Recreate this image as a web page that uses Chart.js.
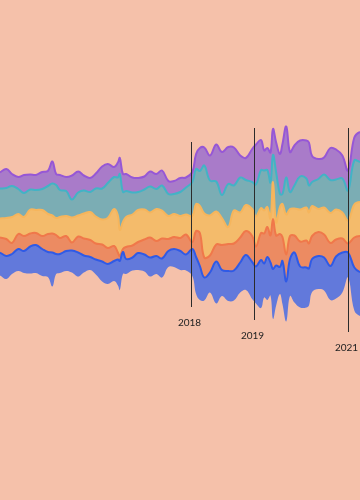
<!DOCTYPE html>
<html>
<head>
<meta charset="utf-8">
<script src="https://cdn.jsdelivr.net/npm/chart.js@4.4.0/dist/chart.umd.min.js"></script>
<style>
  html, body { margin: 0; padding: 0; background: #f5c1aa; overflow: hidden; }
  #wrap { width: 360px; height: 500px; }
</style>
</head>
<body>
<div id="wrap"><canvas id="stream" width="360" height="500"></canvas></div>
<script>
// sample dates (decimal years)
const dates = [2014.97, 2015.07, 2015.16, 2015.26, 2015.35, 2015.45, 2015.54, 2015.64, 2015.73, 2015.80,
  2015.86, 2015.92, 2016.02, 2016.11, 2016.21, 2016.30, 2016.40, 2016.49, 2016.59, 2016.68,
  2016.78, 2016.84, 2016.87, 2016.92, 2016.97, 2017.07, 2017.16, 2017.26, 2017.35, 2017.45,
  2017.54, 2017.64, 2017.73, 2017.83, 2017.92, 2018.02, 2018.08, 2018.14, 2018.21, 2018.30,
  2018.40, 2018.49, 2018.59, 2018.68, 2018.78, 2018.87, 2018.97, 2019.03, 2019.11, 2019.16,
  2019.21, 2019.26, 2019.30, 2019.35, 2019.41, 2019.45, 2019.51, 2019.57, 2019.64, 2019.73,
  2019.83, 2019.87, 2019.92, 2020.02, 2020.11, 2020.21, 2020.30, 2020.40, 2020.49, 2020.59,
  2020.68, 2020.78];

// layer thickness, bottom to top
const blue = [23, 23, 20, 22, 22, 27, 28, 27, 25, 34, 20, 19, 20, 22, 24, 17, 13, 15, 20, 20,
  20, 26, 29, 22, 15, 13, 17, 17, 19, 18, 19, 16, 18, 19, 16, 27, 37, 34, 23, 20,
  42, 26, 30, 30, 30, 35, 37, 37, 48, 34, 43, 33, 50, 40, 27, 43, 40, 37, 50, 41,
  40, 37, 33, 33, 33, 34, 42, 40, 25, 43, 44, 45];
const orange = [15, 17, 11, 15, 15, 13, 12, 13, 18, 19, 19, 16, 15, 8, 16, 17, 17, 16, 17, 16,
  15, 7, 5, 3, 12, 12, 11, 15, 20, 15, 20, 12, 12, 13, 20, 7, 26, 33, 20, 17,
  17, 25, 27, 27, 25, 24, 26, 20, 27, 30, 30, 27, 50, 30, 33, 24, 27, 23, 17, 25,
  27, 25, 23, 24, 23, 23, 17, 14, 9, 30, 36, 35];
const yellow = [19, 21, 26, 20, 19, 24, 23, 26, 20, 18, 17, 21, 20, 25, 21, 25, 28, 27, 25, 30,
  37, 37, 26, 27, 30, 31, 32, 30, 25, 32, 28, 23, 23, 22, 20, 26, 27, 27, 44, 40,
  33, 27, 17, 33, 25, 26, 27, 30, 25, 23, 20, 17, 37, 13, 27, 33, 40, 27, 27, 32,
  33, 31, 30, 23, 27, 30, 30, 26, 23, 33, 34, 33];
const teal = [30, 30, 31, 25, 24, 20, 20, 21, 28, 32, 33, 27, 25, 18, 23, 23, 20, 28, 31, 35,
  32, 38, 56, 30, 26, 22, 18, 20, 26, 20, 25, 22, 20, 24, 27, 34, 35, 35, 48, 35,
  30, 23, 43, 25, 35, 25, 27, 32, 38, 40, 37, 36, 27, 50, 13, 10, 37, 17, 23, 33,
  29, 27, 24, 30, 33, 33, 30, 34, 30, 44, 40, 40];
const purple = [16, 19, 12, 12, 18, 15, 15, 17, 15, 22, 11, 15, 14, 24, 21, 15, 14, 15, 22, 19,
  10, 15, 16, 18, 17, 15, 14, 13, 15, 15, 15, 13, 13, 14, 10, 10, 15, 23, 18, 25,
  37, 43, 37, 38, 22, 22, 33, 40, 30, 20, 22, 30, 26, 30, 40, 50, 51, 40, 40, 36,
  38, 43, 26, 20, 17, 32, 30, 23, 20, 23, 30, 32];

const layers = [
  { name: 'A', values: blue, fill: '#6279db', line: '#2f5ae6' },
  { name: 'B', values: orange, fill: '#ec8b62', line: '#f0784a' },
  { name: 'C', values: yellow, fill: '#f4bb6b', line: '#f6b55c' },
  { name: 'D', values: teal, fill: '#7badb4', line: '#42b3c6' },
  { name: 'E', values: purple, fill: '#a97bc9', line: '#9657d6' }
];

// year markers
const markerYears = [2018.0, 2019.0, 2020.49];
const markerLabels = ['2018', '2019', '2021'];
const markerTop = [82, 96, 96];
const markerBottom = [-83, -96, -108];

// silhouette offset: centre the stream on zero
const baseline = dates.map((d, i) => -layers.reduce((s, l) => s + l.values[i], 0) / 2);

const datasets = [{
  label: 'base',
  data: dates.map((d, i) => ({ x: d, y: baseline[i] })),
  borderWidth: 0,
  pointRadius: 0,
  tension: 0.4,
  fill: false
}];
layers.forEach(l => {
  datasets.push({
    label: l.name,
    data: dates.map((d, i) => ({ x: d, y: l.values[i] })),
    backgroundColor: l.fill,
    borderColor: l.line,
    borderWidth: 2,
    pointRadius: 0,
    tension: 0.4,
    fill: '-1'
  });
});

const markers = {
  id: 'markers',
  afterDatasetsDraw(chart) {
    const { ctx, scales: { x, y } } = chart;
    ctx.save();
    ctx.strokeStyle = '#2b2b2b';
    ctx.lineWidth = 1;
    ctx.fillStyle = '#222';
    ctx.font = '10px Lato';
    ctx.textAlign = 'center';
    ctx.textBaseline = 'top';
    markerYears.forEach((yr, i) => {
      const px = Math.round(x.getPixelForValue(yr)) + 0.5;
      const y0 = y.getPixelForValue(markerTop[i]);
      const y1 = y.getPixelForValue(markerBottom[i]);
      ctx.beginPath();
      ctx.moveTo(px, y0);
      ctx.lineTo(px, y1);
      ctx.stroke();
      ctx.fillText(markerLabels[i], px - 2, y1 + 11);
    });
    ctx.restore();
  }
};

new Chart(document.getElementById('stream'), {
  type: 'line',
  data: { datasets },
  options: {
    responsive: false,
    animation: false,
    layout: { padding: 0 },
    plugins: { legend: { display: false }, tooltip: { enabled: false } },
    scales: {
      x: { type: 'linear', min: 2014.97, max: 2020.68, display: false },
      y: { stacked: 'single', min: -276, max: 224, display: false }
    }
  },
  plugins: [markers]
});
</script>
</body>
</html>
